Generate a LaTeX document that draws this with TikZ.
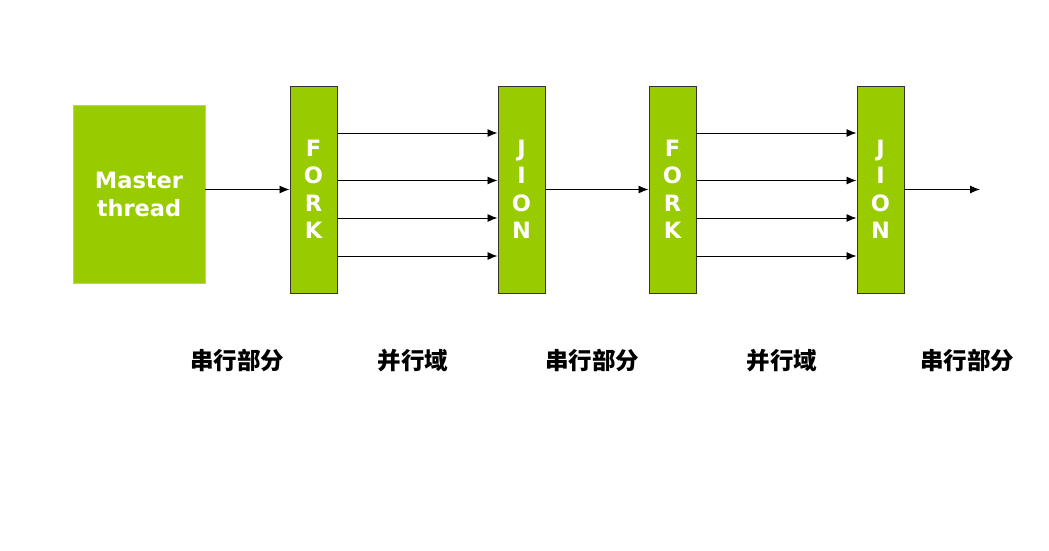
\documentclass[tikz,border=0pt]{standalone}
\usepackage{fontspec}
\setmainfont{DejaVu Sans}
\newfontfamily\cjk{Noto Sans CJK SC}
\usetikzlibrary{arrows.meta}
\definecolor{grn}{HTML}{99CC00}
\begin{document}
\begin{tikzpicture}[x=1pt,y=-1pt,
  bar/.style={draw=black!80,line width=1pt,fill=grn,minimum width=47pt,minimum height=207pt,inner sep=0pt,
    text=white,font=\fontsize{22.5}{27.5}\selectfont\bfseries,align=center},
  arr/.style={line width=0.9pt,-{Latex[length=10pt,width=8pt]}},
  lab/.style={font=\fontsize{23.5}{26}\selectfont\cjk\bfseries}]
\useasboundingbox (0,0) rectangle (1049,551);
\node[fill=grn,draw=grn!70!white,line width=0.8pt,minimum width=132pt,minimum height=178pt,inner sep=0pt,
  text=white,font=\fontsize{22.5}{28}\selectfont\bfseries,align=center] (m) at (139,194) {Master\\thread};
\node[bar] (f1) at (313.5,189.5) {F\\O\\R\\K};
\node[bar] (j1) at (521.5,189.5) {J\\I\\O\\N};
\node[bar] (f2) at (672.5,189.5) {F\\O\\R\\K};
\node[bar] (j2) at (880.5,189.5) {J\\I\\O\\N};
\coordinate (end) at (980,189.5);
\draw[arr] (m.east |- 0,189.5) -- (f1.west |- 0,189.5);
\draw[arr] (j1.east |- 0,189.5) -- (f2.west |- 0,189.5);
\draw[arr] (j2.east |- 0,189.5) -- (end);
\foreach \yy in {133,180.5,218,256}{
  \draw[arr] (f1.east |- 0,\yy) -- (j1.west |- 0,\yy);
  \draw[arr] (f2.east |- 0,\yy) -- (j2.west |- 0,\yy);
}
\node[lab] (s1) at (237,360) {串行部分};
\node[lab] (p1) at (413,361) {并行域};
\node[lab] (s2) at (592,360) {串行部分};
\node[lab] (p2) at (782,361) {并行域};
\node[lab] (s3) at (967,360) {串行部分};
\end{tikzpicture}
\end{document}
